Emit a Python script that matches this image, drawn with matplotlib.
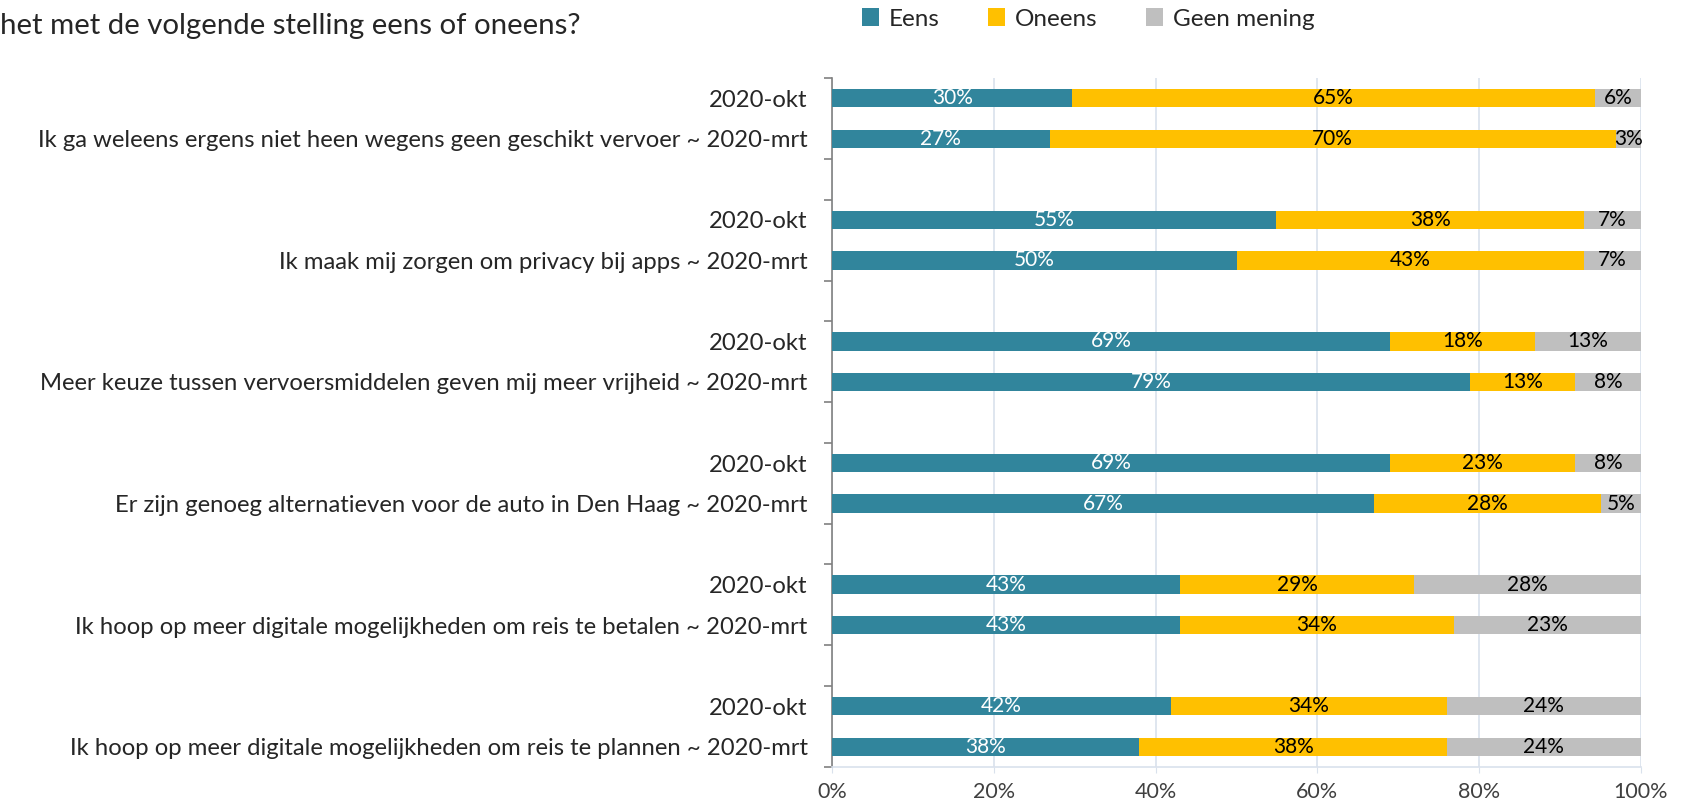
import matplotlib.pyplot as plt
import numpy as np

plt.rcParams['font.family'] = ['Lato', 'DejaVu Sans']

statements = [
    "Ik ga weleens ergens niet heen wegens geen geschikt vervoer",
    "Ik maak mij zorgen om privacy bij apps",
    "Meer keuze tussen vervoersmiddelen geven mij meer vrijheid",
    "Er zijn genoeg alternatieven voor de auto in Den Haag",
    "Ik hoop op meer digitale mogelijkheden om reis te betalen",
    "Ik hoop op meer digitale mogelijkheden om reis te plannen",
]
periods = ["2020-okt", "2020-mrt"]

# per statement: [okt, mrt]
eens = [[29.7, 26.9], [54.9, 50.0], [69.0, 78.9], [69.0, 67.0], [43.0, 43.0], [41.9, 38.0]]
oneens = [[64.6, 70.0], [38.1, 43.0], [17.9, 13.0], [22.9, 28.0], [29.0, 33.9], [34.1, 38.0]]
geen = [[5.7, 3.1], [7.0, 7.0], [13.1, 8.1], [8.1, 5.0], [28.0, 23.1], [24.0, 24.0]]

series = ["Eens", "Oneens", "Geen mening"]
colors = ["#31859C", "#FFC000", "#BFBFBF"]
text_colors = ["white", "black", "black"]

fig = plt.figure(figsize=(16.82, 8.08), dpi=100)
ax = fig.add_axes([832 / 1682, 1 - 767 / 808, (1641 - 832) / 1682, (767 - 78) / 808])

# slot positions: two bars per statement, one empty slot between groups
ypos, labels, vals = [], [], {s: [] for s in series}
for i, st in enumerate(statements):
    for j, per in enumerate(periods):
        ypos.append(i * 3 + j)
        labels.append(per if j == 0 else f"{st} ~ {per}")
        vals["Eens"].append(eens[i][j])
        vals["Oneens"].append(oneens[i][j])
        vals["Geen mening"].append(geen[i][j])

ypos = np.array(ypos)
left = np.zeros(len(ypos))
for s, c, tc in zip(series, colors, text_colors):
    v = np.array(vals[s])
    bars = ax.barh(ypos, v, left=left, height=0.45, color=c, label=s, zorder=3)
    ax.bar_label(bars, labels=[f"{x:.0f}%" for x in v], label_type='center',
                 color=tc, fontsize=15)
    left += v

ax.set_xlim(0, 100)
ax.set_ylim(16.5, -0.5)
ax.set_xticks(np.arange(0, 101, 20))
ax.set_xticklabels([f"{x}%" for x in range(0, 101, 20)], fontsize=15.5, color="#404040")
ax.set_yticks(ypos)
ax.set_yticklabels(labels, fontsize=17.2, color="#262626")
ax.tick_params(axis='y', length=0, pad=17.5)
ax.tick_params(axis='x', length=4, color="#D9E1EC", pad=7)

# separator ticks on the category axis
boundaries = [-0.5]
for i in range(len(statements)):
    boundaries += [i * 3 + 1.5, i * 3 + 2.5] if i < len(statements) - 1 else [i * 3 + 1.5]
ax.set_yticks(boundaries, minor=True)
ax.tick_params(axis='y', which='minor', length=6, color="#808080", width=1.2)

ax.grid(axis='x', color="#D9E1EC", linewidth=1.2, zorder=0)
for sp in ["top", "right"]:
    ax.spines[sp].set_visible(False)
ax.spines["left"].set_color("#808080")
ax.spines["left"].set_linewidth(1.2)
ax.spines["bottom"].set_color("#D9E1EC")
ax.spines["bottom"].set_linewidth(1.2)

fig.text(0.0, 1 - 26 / 808, "het met de volgende stelling eens of oneens?",
         fontsize=21.2, color="#262626", va='center', ha='left')

fig.legend(loc='center', bbox_to_anchor=(1088 / 1682, 1 - 19 / 808), ncol=3,
           frameon=False, fontsize=17.5, handlelength=0.7, handleheight=0.7,
           columnspacing=2.0, handletextpad=0.4, labelcolor="#262626")

fig.savefig("out.png", dpi=100)
